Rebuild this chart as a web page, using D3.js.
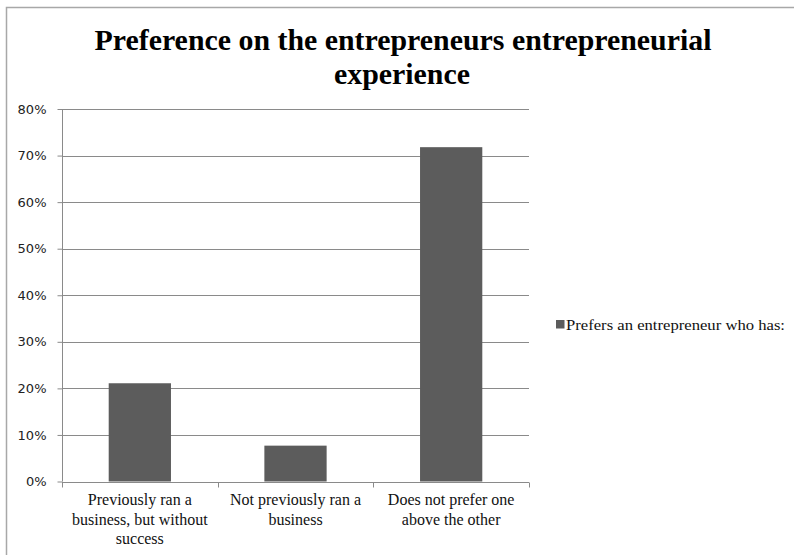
<!DOCTYPE html>
<html>
<head>
<meta charset="utf-8">
<script src="https://cdn.jsdelivr.net/npm/d3@7/dist/d3.min.js"></script>
<style>
  html, body { margin: 0; padding: 0; background: #fff; }
  svg { display: block; }
</style>
</head>
<body>
<div id="chart"></div>
<script>
// Chart data
const titleLines = ["Preference on the entrepreneurs entrepreneurial", "experience"];
const categories = [
  "Previously ran a|business, but without|success",
  "Not previously ran a|business",
  "Does not prefer one|above the other"
];
const seriesName = "Prefers an entrepreneur who has:";
const seriesValues = [0.211, 0.077, 0.718];
const yTicks = [0, 0.1, 0.2, 0.3, 0.4, 0.5, 0.6, 0.7, 0.8];

const W = 794, H = 555;
const plot = { left: 62, right: 529, top: 109, bottom: 481.5 };
const serif = "'Liberation Serif', 'Times New Roman', serif";
const sans = "'DejaVu Sans', Tahoma, sans-serif";
const barColor = "#5c5c5c";
const lineColor = "#8a8a8a";

const svg = d3.select("#chart").append("svg")
  .attr("width", W).attr("height", H);

// Outer chart frame
svg.append("rect")
  .attr("x", 6.5).attr("y", 7.5)
  .attr("width", W).attr("height", H)
  .attr("fill", "#fff")
  .attr("stroke", "#a8a8a8").attr("stroke-width", 1.5);

// Title
const title = svg.append("g").attr("font-family", serif)
  .attr("font-weight", "bold").attr("font-size", 29)
  .attr("fill", "#000").attr("text-anchor", "middle");
title.append("text").attr("x", 403).attr("y", 50)
  .attr("textLength", 617).attr("lengthAdjust", "spacingAndGlyphs")
  .text(titleLines[0]);
title.append("text").attr("x", 402).attr("y", 84)
  .attr("textLength", 136).attr("lengthAdjust", "spacingAndGlyphs")
  .text(titleLines[1]);

// Scales
const x = d3.scaleBand()
  .domain(categories)
  .range([plot.left, plot.right])
  .paddingInner(0.6).paddingOuter(0.3);
const y = d3.scaleLinear().domain([0, 0.8]).range([plot.bottom, plot.top]);

// Gridlines
svg.append("g").selectAll("line").data(yTicks.filter(d => d > 0)).join("line")
  .attr("x1", plot.left).attr("x2", plot.right)
  .attr("y1", d => Math.round(y(d)) + 0.5).attr("y2", d => Math.round(y(d)) + 0.5)
  .attr("stroke", lineColor).attr("stroke-width", 1);

// Bars
svg.append("g").selectAll("rect").data(seriesValues).join("rect")
  .attr("x", (d, i) => x(categories[i]))
  .attr("y", d => y(d))
  .attr("width", x.bandwidth())
  .attr("height", d => y(0) - y(d))
  .attr("fill", barColor);

// Y axis
const yAxis = svg.append("g")
  .attr("transform", `translate(${plot.left + 0.5},0)`)
  .call(d3.axisLeft(y).tickValues(yTicks).tickFormat(d3.format(".0%")).tickSize(5).tickPadding(11));
yAxis.select(".domain").attr("stroke", lineColor).attr("d", `M0,${plot.top}V${plot.bottom}`);
yAxis.selectAll(".tick line").attr("stroke", lineColor);
yAxis.selectAll(".tick text").attr("font-family", sans).attr("font-size", 13).attr("fill", "#222");

// X axis with ticks at category boundaries
const xAxisG = svg.append("g").attr("transform", `translate(0,${Math.round(plot.bottom) + 0.5})`);
xAxisG.append("line").attr("x1", plot.left).attr("x2", plot.right)
  .attr("stroke", lineColor);
const bounds = categories.map(c => x(c) - x.step() * x.paddingInner() / 2);
bounds[0] = plot.left;
bounds.push(plot.right);
xAxisG.selectAll(".bound").data(bounds).join("line")
  .attr("class", "bound")
  .attr("x1", d => Math.round(d) + 0.5).attr("x2", d => Math.round(d) + 0.5)
  .attr("y1", 0).attr("y2", 5)
  .attr("stroke", lineColor);

// Category labels
const labels = svg.append("g").attr("font-family", serif).attr("font-size", 16)
  .attr("fill", "#111").attr("text-anchor", "middle");
categories.forEach(c => {
  const cx = x(c) + x.bandwidth() / 2;
  c.split("|").forEach((line, j) => {
    labels.append("text").attr("x", cx).attr("y", 505 + j * 19.5).text(line);
  });
});

// Legend
const legend = svg.append("g");
legend.append("rect").attr("x", 556).attr("y", 320).attr("width", 8.5).attr("height", 8.5)
  .attr("fill", barColor);
legend.append("text").attr("x", 566).attr("y", 330)
  .attr("font-family", serif).attr("font-size", 15.5).attr("fill", "#111")
  .attr("textLength", 219).attr("lengthAdjust", "spacingAndGlyphs")
  .text(seriesName);
</script>
</body>
</html>
